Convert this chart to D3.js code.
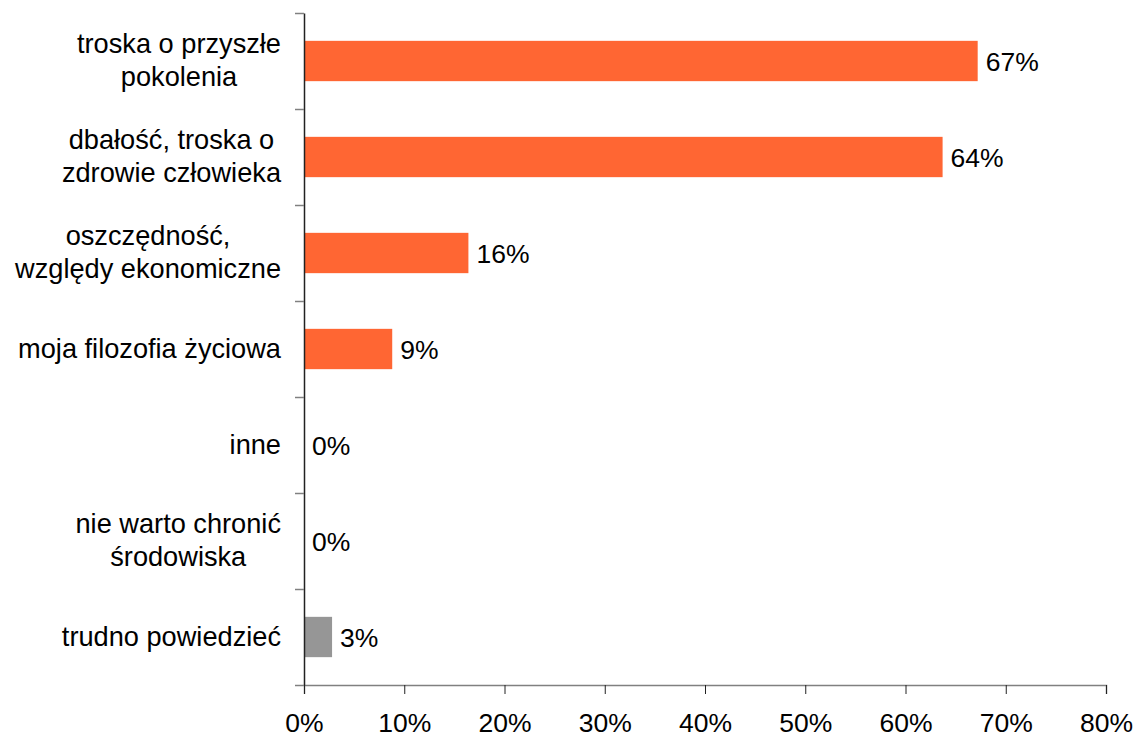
<!DOCTYPE html>
<html>
<head>
<meta charset="utf-8">
<script src="https://cdn.jsdelivr.net/npm/d3@7"></script>
<style>
  body { margin: 0; background: #fff; }
  svg { display: block; font-family: "Liberation Sans", Arial, sans-serif; }
</style>
</head>
<body>
<svg id="chart" width="1138" height="739"></svg>
<script>
'use strict';

// categories, each one a list of label lines
var categories = [
  ['troska o przyszłe', 'pokolenia'],
  ['dbałość, troska o', 'zdrowie człowieka'],
  ['oszczędność,', 'względy ekonomiczne'],
  ['moja filozofia życiowa'],
  ['inne'],
  ['nie warto chronić', 'środowiska'],
  ['trudno powiedzieć']
];
var values = [67.2, 63.7, 16.4, 8.8, 0, 0, 2.8];
var valueLabels = ['67%', '64%', '16%', '9%', '0%', '0%', '3%'];
var barColors = ['#ff6633', '#ff6633', '#ff6633', '#ff6633', '#ff6633', '#ff6633', '#969696'];
var xTicks = [0, 10, 20, 30, 40, 50, 60, 70, 80];

var width = 1138, height = 739;
var margin = {top: 13, right: 32, bottom: 54, left: 304};

var svg = d3.select('#chart');

var x = d3.scaleLinear()
  .domain([0, 80])
  .range([margin.left, width - margin.right]);

var y = d3.scaleBand()
  .domain(d3.range(categories.length))
  .range([margin.top, height - margin.bottom])
  .padding(0);

var barH = y.bandwidth() * 0.42;

// bars
svg.append('g')
  .selectAll('rect')
  .data(values)
  .join('rect')
  .attr('x', x(0))
  .attr('y', function (d, i) { return y(i) + (y.bandwidth() - barH) / 2; })
  .attr('width', function (d) { return x(d) - x(0); })
  .attr('height', barH)
  .attr('fill', function (d, i) { return barColors[i]; });

// value labels
svg.append('g')
  .selectAll('text')
  .data(values)
  .join('text')
  .attr('x', function (d) { return x(d) + 8; })
  .attr('y', function (d, i) { return y(i) + y.bandwidth() / 2 + 9.5; })
  .attr('font-size', 26.5)
  .attr('fill', '#000')
  .text(function (d, i) { return valueLabels[i]; });

// x axis
var xAxis = svg.append('g')
  .attr('transform', 'translate(0,' + (height - margin.bottom) + ')')
  .call(d3.axisBottom(x)
    .tickValues(xTicks)
    .tickSize(9)
    .tickPadding(19.5)
    .tickFormat(function (d) { return d + '%'; }));
xAxis.select('.domain').attr('stroke', '#808080').attr('stroke-width', 1.5);
xAxis.selectAll('.tick line').attr('stroke', '#222');
xAxis.selectAll('.tick text')
  .attr('font-size', 26.5)
  .attr('font-family', '"Liberation Sans", Arial, sans-serif')
  .attr('fill', '#000');

// y axis: ticks at band edges, category labels drawn separately
var yEdges = d3.scaleLinear()
  .domain([0, categories.length])
  .range([margin.top, height - margin.bottom]);
var yAxis = svg.append('g')
  .attr('transform', 'translate(' + margin.left + ',0)')
  .call(d3.axisLeft(yEdges)
    .tickValues(d3.range(categories.length + 1))
    .tickSize(9)
    .tickSizeOuter(0)
    .tickFormat(''));
yAxis.select('.domain').attr('stroke', '#222').attr('stroke-width', 1.5);
yAxis.selectAll('.tick line').attr('stroke', '#808080').attr('stroke-width', 1.5);

// category labels, lines centred on each other, block right-aligned
var labelRight = margin.left - 23;
var lineGap = 33;
var labels = svg.append('g')
  .attr('font-size', 27.2)
  .attr('fill', '#000');

categories.forEach(function (lines, i) {
  var t = labels.append('text').attr('text-anchor', 'middle');
  var spans = lines.map(function (line, j) {
    return t.append('tspan')
      .attr('y', y(i) + y.bandwidth() / 2 + 8.5 + (j - (lines.length - 1) / 2) * lineGap)
      .text(line);
  });
  var maxW = d3.max(spans, function (s) { return s.node().getComputedTextLength(); });
  spans.forEach(function (s) { s.attr('x', labelRight - maxW / 2); });
});
</script>
</body>
</html>
